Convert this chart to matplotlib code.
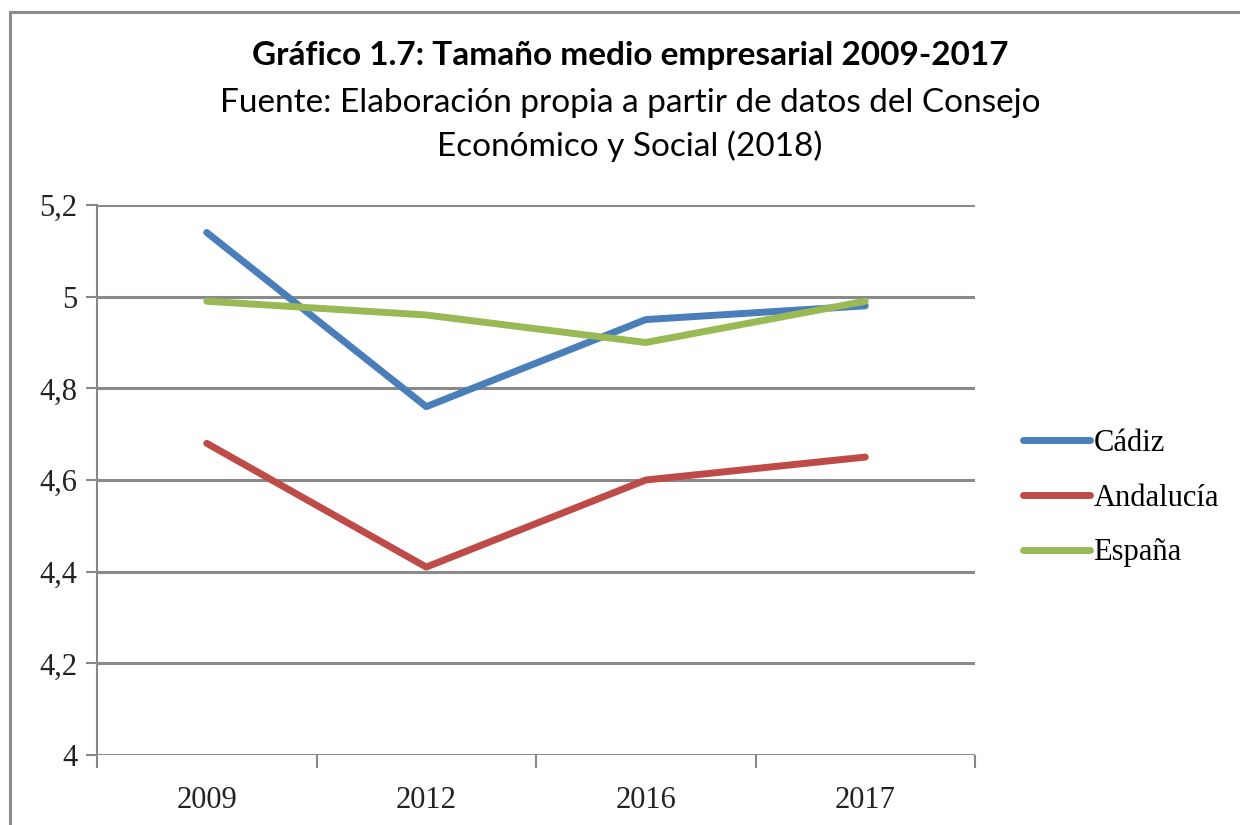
import matplotlib.pyplot as plt
from matplotlib.patches import Rectangle
from matplotlib.ticker import FixedLocator

years = ["2009", "2012", "2016", "2017"]
cadiz = [5.14, 4.76, 4.95, 4.98]
andalucia = [4.68, 4.41, 4.60, 4.65]
espana = [4.99, 4.96, 4.90, 4.99]
yticks = [4.0, 4.2, 4.4, 4.6, 4.8, 5.0, 5.2]
ytick_labels = ["4", "4,2", "4,4", "4,6", "4,8", "5", "5,2"]

series = [
    ("Cádiz", cadiz, "#4a7ebb"),
    ("Andalucía", andalucia, "#be4b48"),
    ("España", espana, "#98b954"),
]

fig = plt.figure(figsize=(12.4, 8.25), dpi=100)
ax = fig.add_axes([97 / 1240, 1 - 755 / 825, (975 - 97) / 1240, 550 / 825])

# outer frame (cropped on the right/bottom in the original)
fig.patches.append(Rectangle((10 / 1240, -0.05), 1.2, 1 - 12 / 825 + 0.05,
                             transform=fig.transFigure, fill=False,
                             edgecolor="#8c8c8c", linewidth=2.2))

x = list(range(len(years)))
for name, vals, col in series:
    ax.plot(x, vals, color=col, linewidth=5, solid_capstyle="round", label=name)

ax.set_xlim(-0.5, 3.5)
ax.set_ylim(4.0, 5.2)
ax.set_yticks(yticks)
ax.set_yticklabels(ytick_labels)
ax.set_xticks(x)
ax.set_xticklabels(years)
ax.xaxis.set_minor_locator(FixedLocator([-0.5, 0.5, 1.5, 2.5, 3.5]))

for lab in ax.get_xticklabels() + ax.get_yticklabels():
    lab.set_family("Liberation Serif")
    lab.set_fontsize(22)
    lab.set_color("#222222")

ax.tick_params(axis="x", which="major", length=0, pad=22)
ax.tick_params(axis="x", which="minor", length=9, width=1.5, color="#888888")
ax.tick_params(axis="y", length=8, width=1.5, color="#888888", pad=6)

ax.grid(axis="y", color="#8a8a8a", linewidth=2.2)
ax.set_axisbelow(True)
for s in ["top", "right", "bottom"]:
    ax.spines[s].set_visible(False)
ax.spines["left"].set_color("#888888")
ax.spines["left"].set_linewidth(1.5)

leg = fig.legend(*ax.get_legend_handles_labels(), loc="center left",
                 bbox_to_anchor=(1023 / 1240, 1 - 498 / 825), frameon=False,
                 prop={"family": "Liberation Serif", "size": 22},
                 handlelength=2.2, handletextpad=0.1, labelspacing=0.85,
                 borderpad=0, borderaxespad=0)

cx = 630 / 1240
fig.text(cx, 1 - 56 / 825, "Gráfico 1.7: Tamaño medio empresarial 2009-2017",
         ha="center", va="center", fontsize=24, fontweight="bold", family="Lato")
fig.text(cx, 1 - 103 / 825, "Fuente: Elaboración propia a partir de datos del Consejo",
         ha="center", va="center", fontsize=24, family="Lato")
fig.text(cx, 1 - 146 / 825, "Económico y Social (2018)",
         ha="center", va="center", fontsize=24, family="Lato")

fig.savefig("out.png", dpi=100)
